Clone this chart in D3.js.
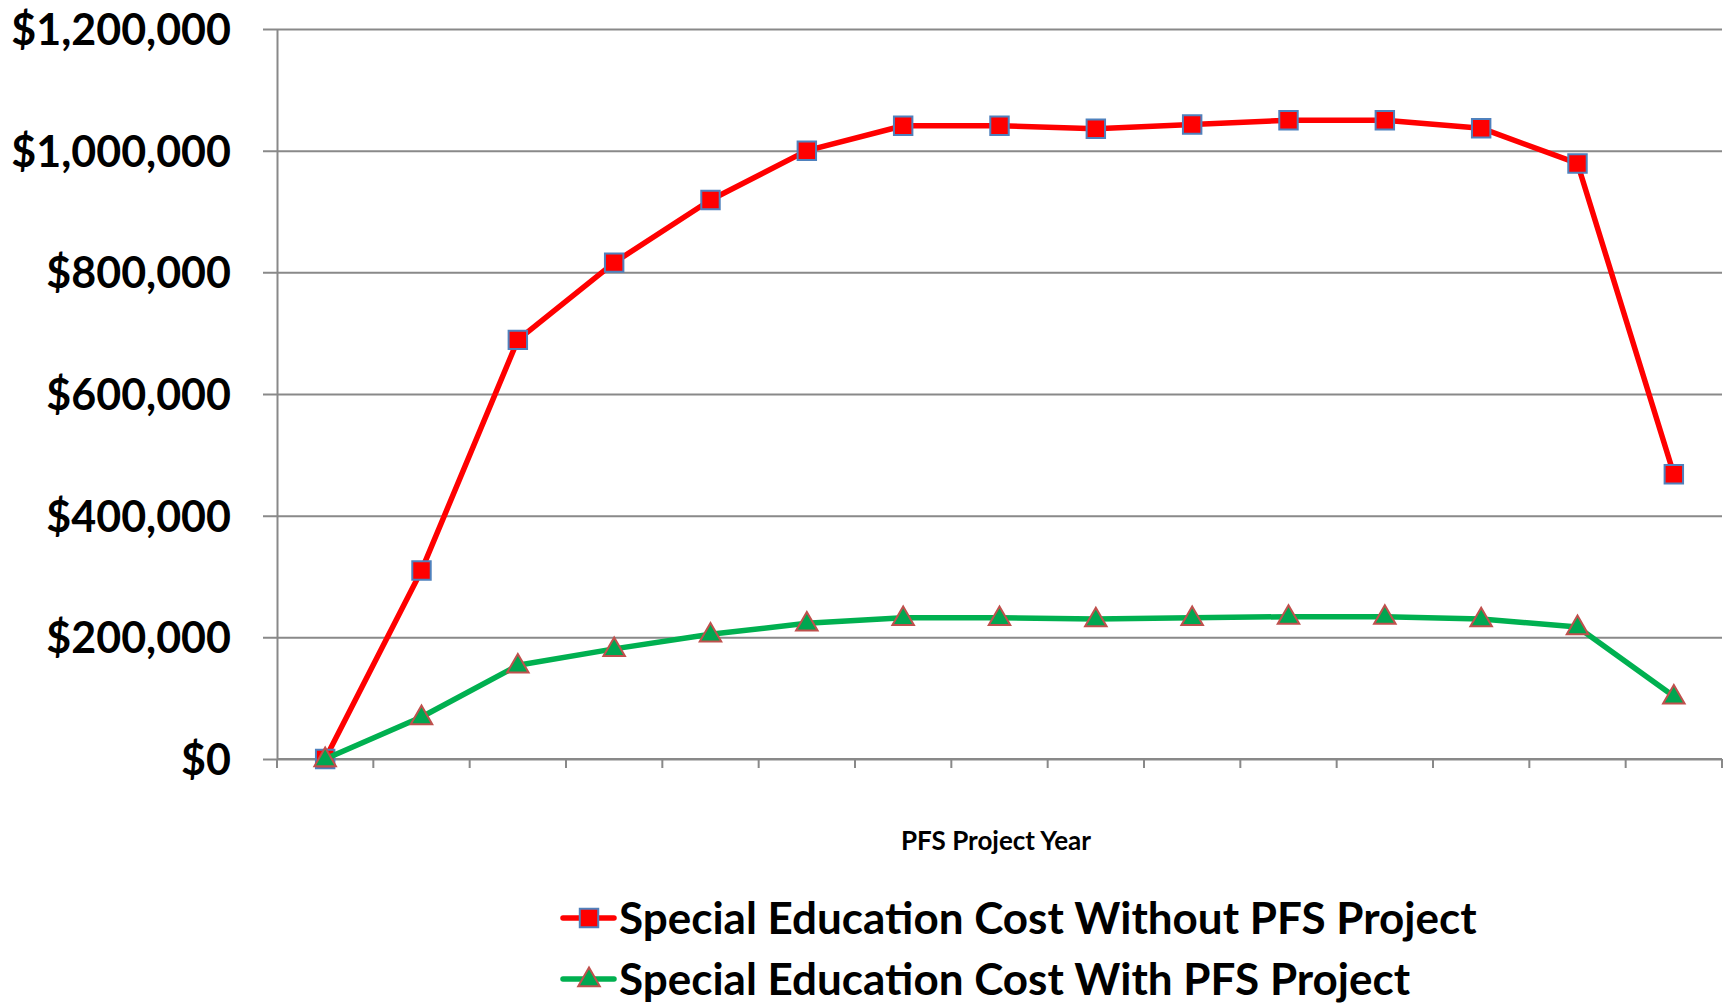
<!DOCTYPE html>
<html>
<head>
<meta charset="utf-8">
<script src="https://cdn.jsdelivr.net/npm/d3@7"></script>
<style>
  html, body { margin: 0; padding: 0; background: #fff; }
  svg { display: block; }
  text { font-family: Lato, "Open Sans", sans-serif; font-weight: bold; fill: #000; }
</style>
</head>
<body>
<svg id="chart" width="1727" height="1003"></svg>
<script>
// Project years 1..15
const years = d3.range(1, 16);

// Annual special education cost without the PFS project
const costWithout = [0, 310000, 689000, 816000, 919000, 1000000, 1041000, 1041000,
                     1036000, 1043000, 1050000, 1050000, 1037000, 979000, 468000];

// Annual special education cost with the PFS project
const costWith = [0, 69000, 154000, 181000, 205000, 223000, 232000, 232000,
                  230000, 232000, 234000, 234000, 230000, 217000, 103000];

const yTicks = [0, 200000, 400000, 600000, 800000, 1000000, 1200000];
const seriesNames = ["Special Education Cost Without PFS Project",
                     "Special Education Cost With PFS Project"];

const svg = d3.select("#chart");
const plot = { left: 277, right: 1722, top: 29, bottom: 759 };

const x = d3.scaleBand().domain(years).range([plot.left, plot.right]);
const y = d3.scaleLinear().domain([0, 1200000]).range([plot.bottom, plot.top]);

const gridColor = "#898989";
const fmt = v => "$" + d3.format(",")(v);

// Horizontal gridlines with outside tick stubs
const yAxis = d3.axisLeft(y).tickValues(yTicks).tickFormat(fmt)
  .tickSize(-(plot.right - plot.left)).tickSizeOuter(0).tickPadding(46);
const gy = svg.append("g").attr("transform", `translate(${plot.left},0)`).call(yAxis);
gy.select(".domain").attr("stroke", gridColor).attr("stroke-width", 2);
gy.selectAll(".tick line").attr("stroke", gridColor).attr("stroke-width", 2)
  .attr("x1", -14);
gy.selectAll(".tick text").style("font-size", "43px").attr("dy", "0.36em");

// Category axis with tick marks at band boundaries
const gx = svg.append("g").attr("transform", `translate(0,${plot.bottom})`);
gx.append("line").attr("x1", plot.left).attr("x2", plot.right)
  .attr("stroke", gridColor).attr("stroke-width", 2);
const bounds = years.map(d => x(d)).concat([plot.right]);
gx.selectAll("line.tk").data(bounds).join("line").attr("class", "tk")
  .attr("x1", d => d).attr("x2", d => d).attr("y1", 0).attr("y2", 9)
  .attr("stroke", gridColor).attr("stroke-width", 2);

svg.append("text").attr("x", 996).attr("y", 850).attr("text-anchor", "middle")
  .style("font-size", "26px").text("PFS Project Year");

const cx = d => x(d) + x.bandwidth() / 2;
const line = d3.line().x((d, i) => cx(years[i])).y(d => y(d));

const series = [
  { name: seriesNames[0], values: costWithout, color: "#ff0000", marker: "square",
    fill: "#ff0000", edge: "#4f81bd" },
  { name: seriesNames[1], values: costWith, color: "#00b050", marker: "triangle",
    fill: "#00a651", edge: "#c0504d" }
];

const sq = d3.symbol().type(d3.symbolSquare).size(340);
const tri = d3.symbol().type(d3.symbolTriangle).size(200);

function drawMarker(g, s, px, py) {
  if (s.marker === "square") {
    g.append("path").attr("d", sq()).attr("transform", `translate(${px},${py})`)
      .attr("fill", s.fill).attr("stroke", s.edge).attr("stroke-width", 2);
  } else {
    g.append("path").attr("d", tri()).attr("transform", `translate(${px},${py + 1})`)
      .attr("fill", s.fill).attr("stroke", s.edge).attr("stroke-width", 2);
  }
}

series.forEach(s => {
  const g = svg.append("g");
  g.append("path").datum(s.values).attr("d", line).attr("fill", "none")
    .attr("stroke", s.color).attr("stroke-width", 5.5).attr("stroke-linejoin", "round");
  s.values.forEach((v, i) => drawMarker(g, s, cx(years[i]), y(v)));
});

// Legend
series.forEach((s, i) => {
  const ly = 918 + i * 61;
  const g = svg.append("g");
  g.append("line").attr("x1", 563).attr("x2", 614).attr("y1", ly).attr("y2", ly)
    .attr("stroke", s.color).attr("stroke-width", 5.5).attr("stroke-linecap", "round");
  drawMarker(g, s, 589, ly);
  g.append("text").attr("x", 619).attr("y", ly).attr("dy", "0.36em")
    .style("font-size", "44px").text(s.name);
});
</script>
</body>
</html>
